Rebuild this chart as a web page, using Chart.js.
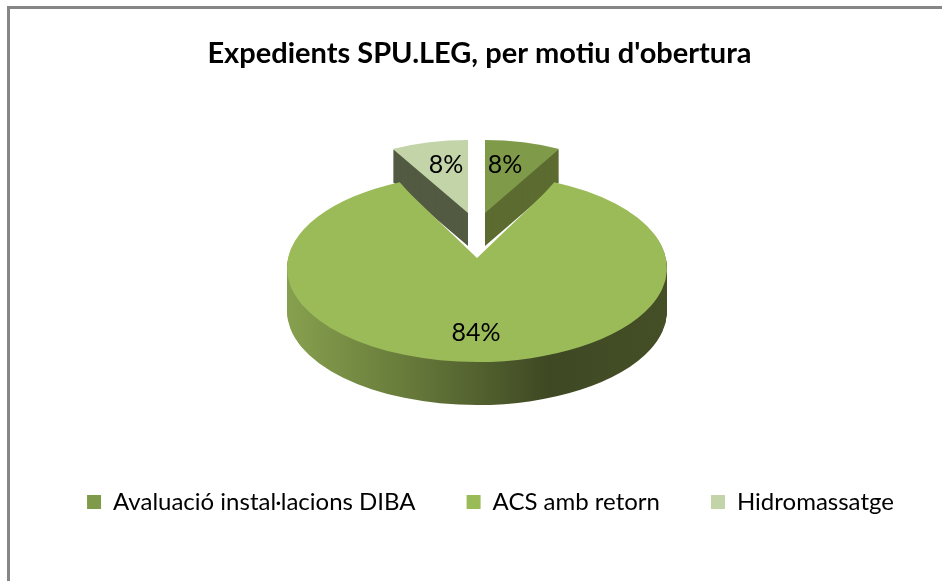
<!DOCTYPE html>
<html>
<head>
<meta charset="utf-8">
<style>
html,body{margin:0;padding:0;background:#fff;overflow:hidden}
#wrap{position:absolute;left:0;top:0;width:942px;height:581px}
</style>
<script src="https://cdn.jsdelivr.net/npm/chart.js@4"></script>
</head>
<body>
<div id="wrap"><canvas id="c" width="942" height="581"></canvas></div>
<script>
const titleText = "Expedients SPU.LEG, per motiu d'obertura";
const categories = ["Avaluació instal·lacions DIBA", "ACS amb retorn", "Hidromassatge"];
const values = [8, 84, 8];
const sliceColors = ["#7F9A48", "#9BBB59", "#C3D4A8"];
const wallColors = ["#5C6B30", null, "#525A42"];

// Projection of each slice onto the tilted plane (screen pixels)
const smallView = {0: {x: 485, y: 213, rx: 154, ry: 73, depth: 33}, 2: {x: 468, y: 213, rx: 156, ry: 73, depth: 33}};
const bigView = {x: 477, y: 268, rx: 190, ry: 94, depth: 43, foreshorten: 24 / 28.8};
const bigApex = {x: 477, y: 258, rx: 162, ry: 85.6};
const labelSpots = [[505, 165], [446, 165], [476, 333]];
const labelOrder = [0, 2, 1];

function drawWith(arc, ctx, view, color) {
  const saved = arc.options;
  arc.options = Object.assign({}, saved, {backgroundColor: color, borderWidth: 0});
  ctx.save();
  ctx.translate(view.x, view.y);
  ctx.scale(view.rx / arc.outerRadius, view.ry / arc.outerRadius);
  ctx.translate(-arc.x, -arc.y);
  arc.draw(ctx);
  ctx.restore();
  arc.options = saved;
}

const pie3d = {
  id: 'pie3d',
  afterLayout(chart) {
    chart.legend.left += 11; chart.legend.right += 11;
  },
  beforeDraw(chart) {
    const ctx = chart.ctx;
    ctx.fillStyle = '#868686';
    ctx.fillRect(7, 6, 3, 575);
    ctx.fillRect(7, 6, 935, 3);
  },
  beforeDatasetDraw(chart) {
    const ctx = chart.ctx;
    const arcs = chart.getDatasetMeta(0).data;
    [0, 2].forEach(i => {
      const v = smallView[i];
      for (let d = v.depth; d > 0; d--) drawWith(arcs[i], ctx, {x: v.x, y: v.y + d, rx: v.rx, ry: v.ry}, wallColors[i]);
      drawWith(arcs[i], ctx, v, sliceColors[i]);
    });

    const big = arcs[1];
    const grad = ctx.createLinearGradient(287, 0, 667, 0);
    [[0, '#91AB56'], [0.05, '#87A04E'], [0.35, '#66793A'], [0.68, '#3E4823'], [1, '#465027']].forEach(s => grad.addColorStop(s[0], s[1]));
    const sa = big.startAngle, ea = big.endAngle, ci = big.circumference;
    const mid = (sa + ea) / 2, half = ci / 2, gap = Math.PI - half;
    const h = Math.PI - gap * bigView.foreshorten;
    big.startAngle = mid - h; big.endAngle = mid + h; big.circumference = 2 * h;
    for (let d = bigView.depth; d > 0; d--) {
      drawWith(big, ctx, {x: bigView.x, y: bigView.y + d, rx: bigView.rx, ry: bigView.ry}, grad);
    }
    drawWith(big, ctx, bigView, sliceColors[1]);
    big.startAngle = sa; big.endAngle = ea; big.circumference = ci;
    drawWith(big, ctx, bigApex, sliceColors[1]);

    ctx.save();
    ctx.fillStyle = '#000';
    ctx.font = '25px Lato';
    ctx.textAlign = 'center';
    ctx.textBaseline = 'middle';
    labelOrder.forEach((idx, k) => ctx.fillText(values[idx] + '%', labelSpots[k][0], labelSpots[k][1]));
    ctx.restore();
    return false;
  }
};

new Chart(document.getElementById('c'), {
  type: 'pie',
  data: {
    labels: categories,
    datasets: [{data: values, backgroundColor: sliceColors, borderWidth: 0}]
  },
  options: {
    responsive: false,
    animation: false,
    layout: {padding: {left: 17, right: 0, top: 0, bottom: 57}},
    plugins: {
      tooltip: {enabled: false},
      title: {
        display: true,
        text: titleText,
        color: '#000',
        font: {family: 'Lato', size: 29, weight: 'bold'},
        padding: {top: 36, bottom: 20}
      },
      legend: {
        position: 'bottom',
        labels: {
          boxWidth: 14,
          boxHeight: 14,
          color: '#000',
          padding: 51,
          font: {family: 'Lato', size: 24}
        }
      }
    }
  },
  plugins: [pie3d]
});
</script>
</body>
</html>
